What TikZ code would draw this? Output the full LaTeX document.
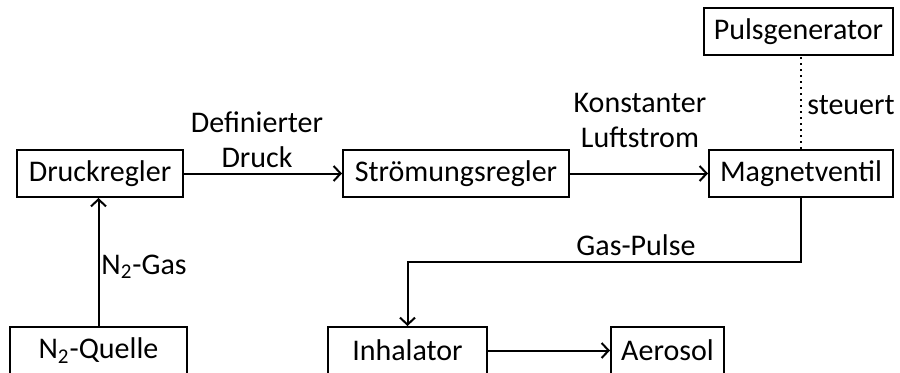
\documentclass[tikz,border=0pt]{standalone}
\usepackage{fontspec}
\setmainfont{Carlito}
\usetikzlibrary{arrows.meta}
\begin{document}
\begin{tikzpicture}[x=0.5pt,y=-0.5pt,
  font=\fontsize{15pt}{17.5pt}\selectfont,
  block/.style={draw, line width=1pt, inner sep=0pt, minimum height=23.5pt, anchor=center},
  flow/.style={line width=1pt, -{Straight Barb[length=3.5pt,width=7.5pt,line width=1pt]}},
  ctrl/.style={line width=1pt, dotted},
  lbl/.style={inner sep=0pt, align=center}]
\useasboundingbox (0,0) rectangle (900,372);

% blocks
\node[block, minimum width=83pt] (druck) at (100,173.5) {Druckregler};
\node[block, minimum width=88.5pt] (quelle) at (98.5,350.5) {N\textsubscript{2}-Quelle};
\node[block, minimum width=113pt] (strom) at (456,173.5) {Strömungsregler};
\node[block, minimum width=92pt] (magnet) at (801,173.5) {Magnetventil};
\node[block, minimum width=94.5pt] (puls) at (798.5,31.5) {Pulsgenerator};
\node[block, minimum width=79.5pt] (inhal) at (407.5,350.5) {Inhalator};
\node[block, minimum width=56.5pt] (aero) at (667.5,350.5) {Aerosol};

% connectors
\draw[flow] (quelle.north) -- (quelle.north |- druck.south);
\draw[flow] (druck.east) -- (strom.west);
\draw[flow] (strom.east) -- (magnet.west);
\draw[ctrl] (magnet.north) -- (magnet.north |- puls.south);
\coordinate (bend) at (407.5,262);
\draw[flow] (magnet.south) |- (bend) -- (inhal.north);
\draw[flow] (inhal.east) -- (aero.west);

% labels
\node[lbl, anchor=west] (gaslbl) at (101,267) {N\textsubscript{2}-Gas};
\node[lbl] (drucklbl) at (257,140) {Definierter\\Druck};
\node[lbl] (stromlbl) at (640,120) {Konstanter\\Luftstrom};
\node[lbl, anchor=west] (steuerlbl) at (807,105) {steuert};
\node[lbl] (pulslbl) at (636,245) {Gas-Pulse};
\end{tikzpicture}
\end{document}
